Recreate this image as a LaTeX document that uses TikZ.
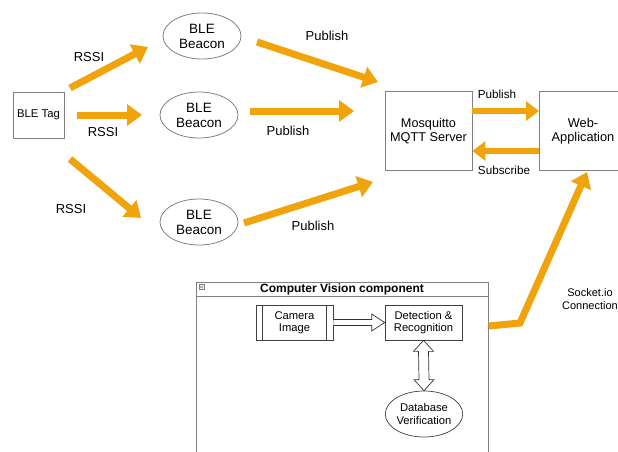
\documentclass[tikz,border=0pt]{standalone}
\usepackage{fontspec}
\setmainfont{Liberation Sans}
\usetikzlibrary{arrows.meta,calc,shapes.geometric}
\definecolor{org}{HTML}{F0A30A}
\definecolor{bord}{HTML}{808080}
\tikzset{
  boxn/.style={draw=bord,line width=0.9pt,align=center,inner sep=0pt},
  elln/.style={draw=bord,line width=0.8pt,ellipse,align=center,inner sep=0pt,minimum width=78pt,minimum height=46pt,font=\fontsize{13.5}{15}\selectfont},
  oarr/.style={draw=org,line width=7pt,-{Triangle[width=21pt,length=15pt]}},
  lbl/.style={font=\fontsize{13}{15}\selectfont,inner sep=0pt},
  slbl/.style={font=\fontsize{11.7}{13}\selectfont,inner sep=0pt},
  cvbox/.style={draw=black!75,line width=0.7pt,minimum width=77pt,minimum height=35pt,align=center,inner sep=0pt,font=\fontsize{11.2}{12.5}\selectfont},
  hollow/.style={draw=black!80,line width=0.7pt,fill=white,line join=miter}
}
\begin{document}
\begin{tikzpicture}[x=1pt,y=-1pt]
\useasboundingbox (0,0) rectangle (618,452);
\clip (0,0) rectangle (618,452);
\fill[white] (0,0) rectangle (618,452);
% nodes
\node[boxn,minimum width=51pt,minimum height=46pt,font=\fontsize{11.3}{13}\selectfont] (tag) at (38.5,115) {BLE Tag};
\node[elln] (b1) at (202,36) {BLE\\Beacon};
\node[elln] (b2) at (199,115) {BLE\\Beacon};
\node[elln] (b3) at (199,222) {BLE\\Beacon};
\node[boxn,minimum width=87pt,minimum height=79pt,font=\fontsize{12.7}{14}\selectfont] (mq) at (428.5,131) {Mosquitto\\MQTT Server};
\node[boxn,minimum width=87pt,minimum height=79pt,anchor=west] (web) at (539,131) {\hspace*{0pt}};
\node[font=\fontsize{12.8}{14}\selectfont,align=center] (webt) at (583,131) {Web-\\Application};
% RSSI arrows
\coordinate (t1) at (70,88);
\coordinate (t2) at (77,115);
\coordinate (t3) at (70,159);
\coordinate (e1) at (148,47);
\coordinate (e2) at (142,115);
\coordinate (e3) at (141,218);
\draw[oarr] (t1) -- (e1);
\draw[oarr] (t2) -- (e2);
\draw[oarr] (t3) -- (e3);
\node[lbl] at (89,57) {RSSI};
\node[lbl] at (103,132) {RSSI};
\node[lbl] at (71,209) {RSSI};
% Publish arrows
\coordinate (p1s) at (257,42);
\coordinate (p1e) at (378,82);
\coordinate (p2s) at (250,111);
\coordinate (p2e) at (354,111);
\coordinate (p3s) at (244,223);
\coordinate (p3e) at (373,182);
\draw[oarr] (p1s) -- (p1e);
\draw[oarr] (p2s) -- (p2e);
\draw[oarr] (p3s) -- (p3e);
\node[lbl] at (327,36) {Publish};
\node[lbl] at (288,131) {Publish};
\node[lbl] at (313,226) {Publish};
% MQTT <-> Web
\draw[oarr,line width=6.5pt,-{Triangle[width=19pt,length=13pt]}] (mq.east|-0,111) -- (web.west|-0,111);
\draw[oarr,line width=6.5pt,-{Triangle[width=19pt,length=13pt]}] (web.west|-0,151) -- (mq.east|-0,151);
\node[slbl] at (497,94) {Publish};
\node[slbl] at (504,170) {Subscribe};
% CV component
\node[draw=bord,line width=0.8pt,minimum width=292pt,minimum height=180pt,anchor=north west,inner sep=0pt] (cv) at (196,282) {};
\draw[bord,line width=0.8pt] (196,296) -- (488,296);
\draw[bord,line width=0.5pt,fill=blue!8] (199,284) rectangle (204,289);
\draw[bord!60,line width=0.4pt] (200,285.7) -- (203,285.7) (200,287.3) -- (203,287.3);
\node[font=\bfseries\fontsize{12}{13}\selectfont,inner sep=0pt] (cvt) at (342,289) {Computer Vision component};
\node[cvbox] (cam) at (294.5,322.5) {Camera\\Image};
\draw[black!75,line width=0.7pt] ($(cam.north west)+(7,0)$) -- ($(cam.south west)+(7,0)$);
\draw[black!75,line width=0.7pt] ($(cam.north east)+(-7,0)$) -- ($(cam.south east)+(-7,0)$);
\node[cvbox] (det) at (423.5,322.5) {Detection \&\\Recognition};
\node[cvbox,ellipse,minimum height=46pt] (db) at (424,414) {Database\\Verification};
% hollow arrow cam -> det
\draw[hollow] ($(cam.east)+(0,-3)$) -- ($(det.west)+(-13,-3)$) -- ($(det.west)+(-13,-8.5)$) -- (det.west) -- ($(det.west)+(-13,8.5)$) -- ($(det.west)+(-13,3)$) -- ($(cam.east)+(0,3)$);
% double hollow arrow det <-> db
\draw[hollow] (det.south) -- ++(10,11) -- ++(-5,0) -- ($(db.north)+(5,-11)$) -- ++(5,0) -- (db.north) -- ++(-10,-11) -- ++(5,0) -- ($(det.south)+(-5,11)$) -- ++(-5,0) -- cycle;
% socket arrow
\coordinate (sk1) at (520,323);
\coordinate (skend) at (587,172);
\draw[oarr,line join=miter] (cv.east|-0,326) -- (sk1) -- (skend);
\node[font=\fontsize{11}{12.5}\selectfont,align=center,inner sep=0pt] (sock) at (590,299) {Socket.io\\Connection};
\end{tikzpicture}
\end{document}
